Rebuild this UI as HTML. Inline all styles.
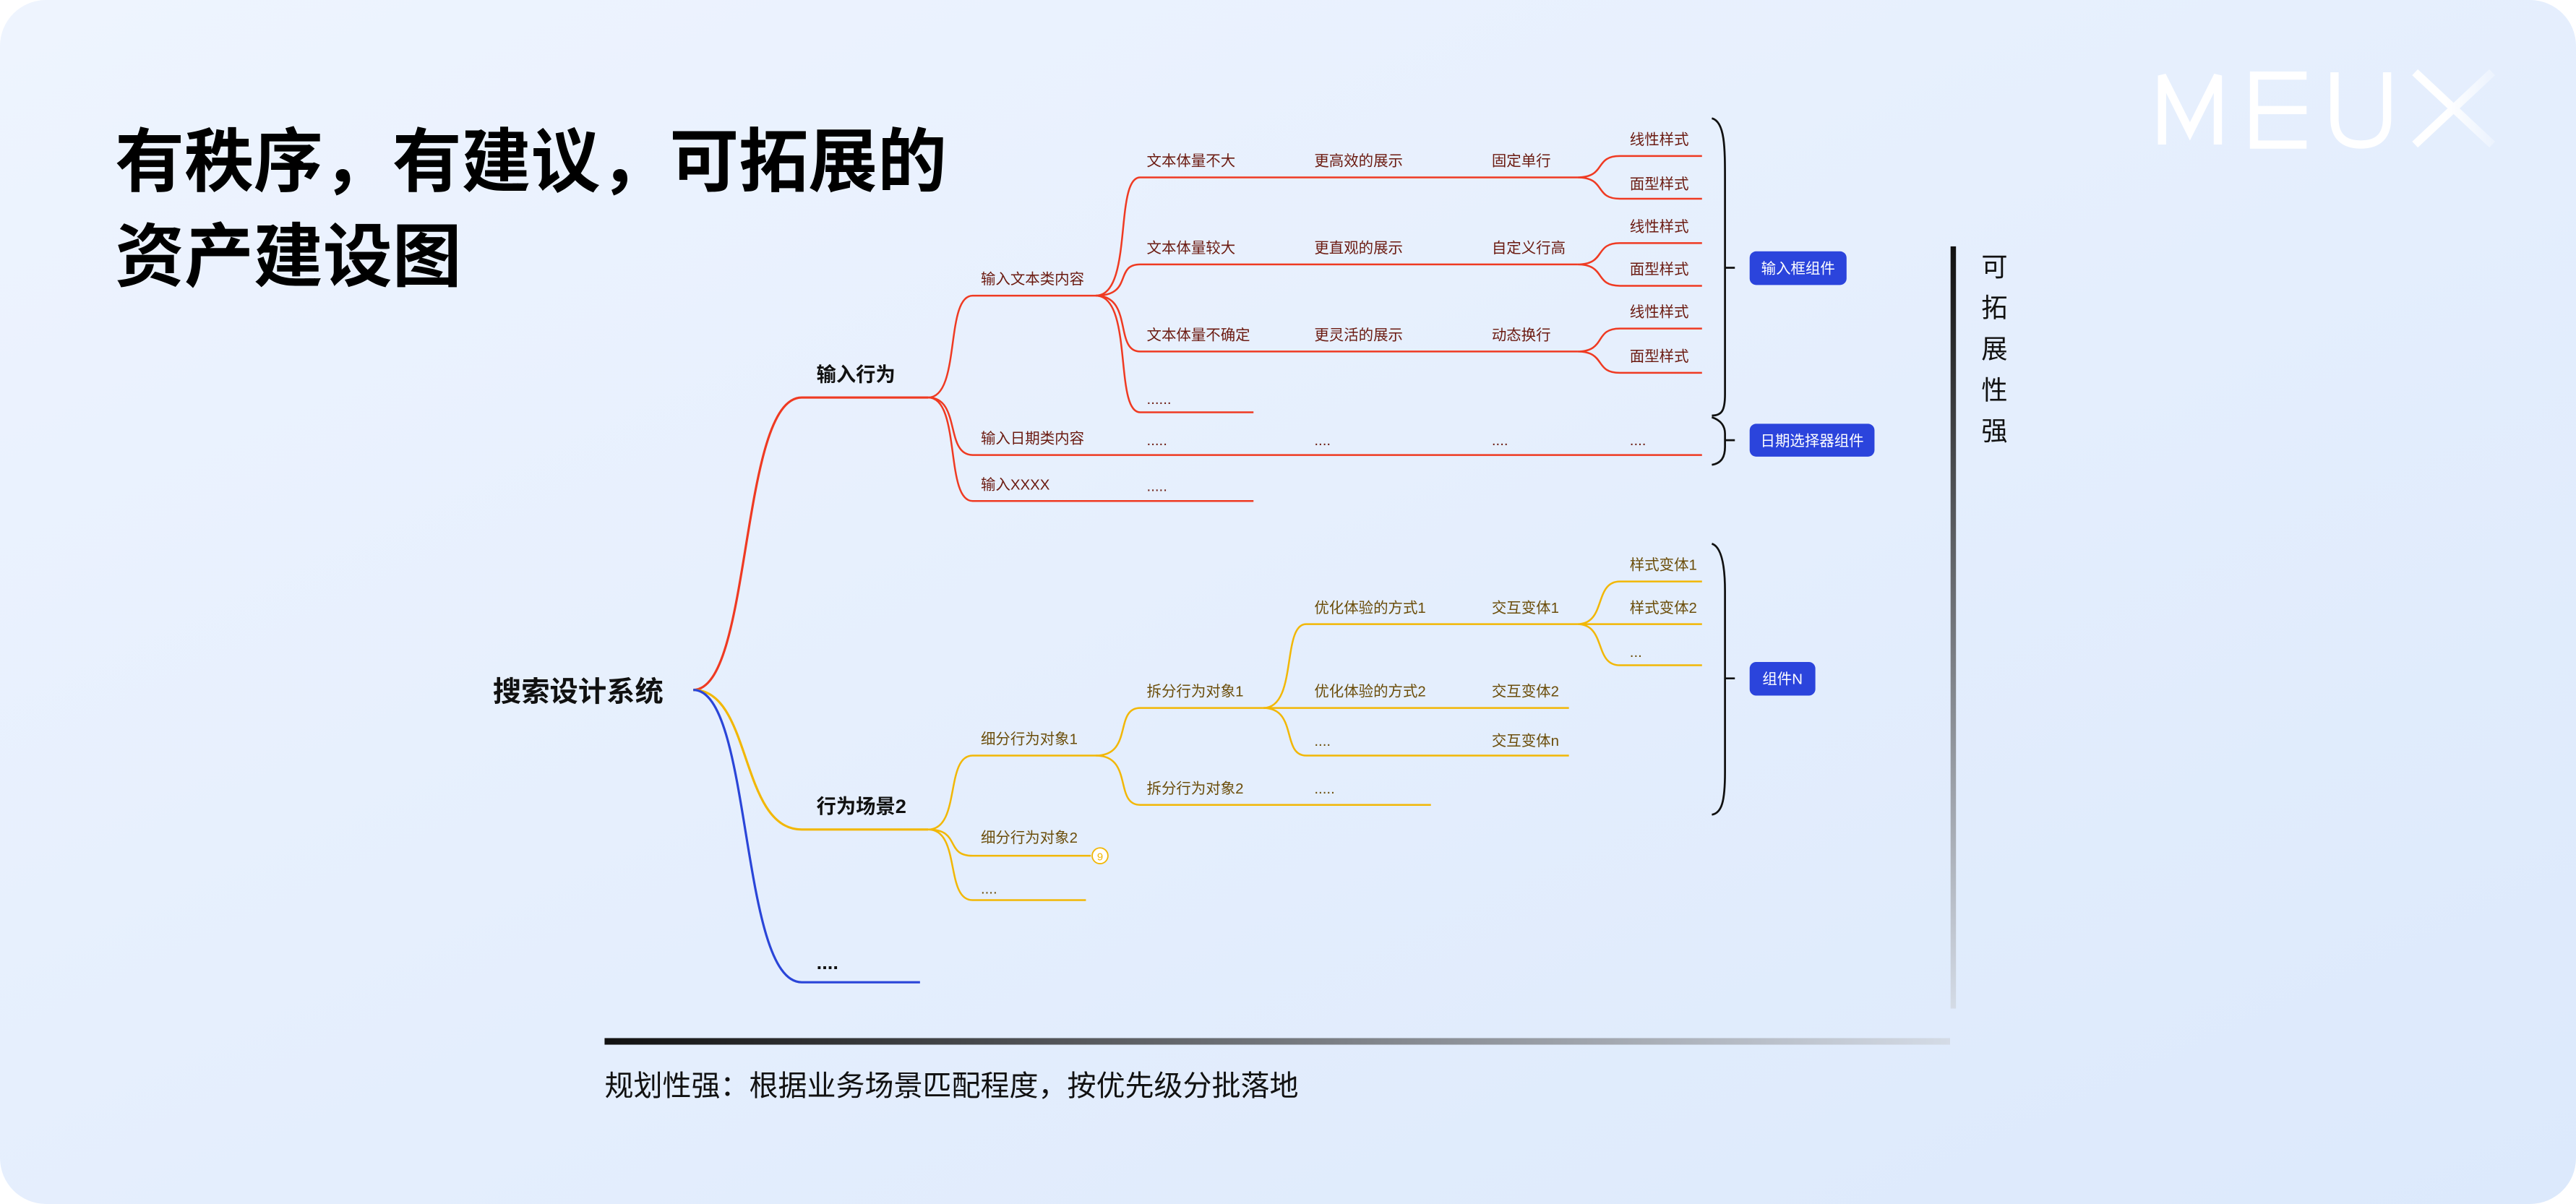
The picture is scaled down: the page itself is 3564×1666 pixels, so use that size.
<!DOCTYPE html>
<html><head><meta charset="utf-8"><style>
html,body{margin:0;padding:0;background:#fff;}
svg{display:block;}
text{font-family:"Liberation Sans","Noto Sans CJK SC",sans-serif;}
</style></head><body>
<svg width="3564" height="1666" viewBox="0 0 1568 733" preserveAspectRatio="none" xmlns="http://www.w3.org/2000/svg">
<defs>
<linearGradient id="bg" x1="0" y1="0" x2="1" y2="1">
<stop offset="0" stop-color="#eef4fe"/><stop offset="1" stop-color="#dce9fc"/>
</linearGradient>
<linearGradient id="hb" x1="0" y1="0" x2="1" y2="0">
<stop offset="0" stop-color="#111"/><stop offset="1" stop-color="#d4dbe6"/>
</linearGradient>
<linearGradient id="vb" x1="0" y1="0" x2="0" y2="1">
<stop offset="0" stop-color="#111"/><stop offset="1" stop-color="#d4dbe6"/>
</linearGradient>
<linearGradient id="xg" x1="0" y1="0" x2="1" y2="0">
<stop offset="0.4" stop-color="#fff"/><stop offset="1" stop-color="#fff" stop-opacity="0.3"/>
</linearGradient>
</defs>
<rect x="0" y="0" width="1568" height="733" rx="28" fill="url(#bg)"/>

<!-- title -->
<text x="70" y="113" font-size="42.2" font-weight="bold" fill="#000">有秩序，有建议，可拓展的</text>
<text x="70" y="171" font-size="42.2" font-weight="bold" fill="#000">资产建设图</text>

<!-- MEUX logo -->
<g fill="none" stroke="#fff" stroke-width="5">
<path d="M1316,88 V46 L1333,80 L1350,46 V88"/>
<path d="M1404,46 H1372 V88 H1404 M1372,67 H1404"/>
<path d="M1421,44 V72 Q1421,88 1437,88 Q1453,88 1453,72 V44"/>
</g>
<path d="M1470,44 L1517,88 M1517,44 L1470,88" stroke="url(#xg)" stroke-width="5" fill="none"/>

<!-- root -->
<text x="300" y="427" font-size="17.3" font-weight="bold" fill="#111">搜索设计系统</text>

<!-- level 1 connectors -->
<g fill="none" stroke-width="1.4">
<path d="M422,420 C458,420 450,242 488,242 H565" stroke="#ef3a22"/>
<path d="M422,420 C458,420 450,505 488,505 H565" stroke="#f2b705"/>
<path d="M422,420 C458,420 450,598 488,598 H560" stroke="#2a45d8"/>
</g>
<g font-size="12" font-weight="bold" fill="#111">
<text x="497" y="232">输入行为</text>
<text x="497" y="495">行为场景2</text>
<text x="497" y="590">....</text>
</g>

<!-- red subtree -->
<g fill="none" stroke="#ef3a22" stroke-width="1.1">
<path d="M565,242 C585,242 575,180 592,180 H667"/>
<path d="M565,242 C585,242 575,277 592,277 H1036"/>
<path d="M565,242 C585,242 575,305 592,305 H763"/>
<path d="M667,180 C690,180 678,108 694,108 H960"/>
<path d="M667,180 C690,180 678,161 694,161 H960"/>
<path d="M667,180 C690,180 678,214 694,214 H960"/>
<path d="M667,180 C690,180 678,251 694,251 H763"/>
<path d="M960,108 C978,108 970,95 986,95 H1036 M960,108 C978,108 970,121 986,121 H1036"/>
<path d="M960,161 C978,161 970,148 986,148 H1036 M960,161 C978,161 970,174 986,174 H1036"/>
<path d="M960,214 C978,214 970,200 986,200 H1036 M960,214 C978,214 970,227 986,227 H1036"/>
</g>
<g font-size="9" fill="#6b1a10">
<text x="597" y="173">输入文本类内容</text>
<text x="597" y="270">输入日期类内容</text>
<text x="597" y="298">输入XXXX</text>
<text x="698" y="101">文本体量不大</text><text x="800" y="101">更高效的展示</text><text x="908" y="101">固定单行</text>
<text x="698" y="154">文本体量较大</text><text x="800" y="154">更直观的展示</text><text x="908" y="154">自定义行高</text>
<text x="698" y="207">文本体量不确定</text><text x="800" y="207">更灵活的展示</text><text x="908" y="207">动态换行</text>
<text x="992" y="88">线性样式</text><text x="992" y="115">面型样式</text>
<text x="992" y="141">线性样式</text><text x="992" y="167">面型样式</text>
<text x="992" y="193">线性样式</text><text x="992" y="220">面型样式</text>
<text x="698" y="246">......</text>
<text x="698" y="271">.....</text><text x="800" y="271">....</text><text x="908" y="271">....</text><text x="992" y="271">....</text>
<text x="698" y="299">.....</text>
</g>

<!-- yellow subtree -->
<g fill="none" stroke="#f2b705" stroke-width="1.1">
<path d="M565,505 C585,505 575,460 592,460 H667"/>
<path d="M565,505 C585,505 575,521 592,521 H664"/>
<path d="M565,505 C585,505 575,548 592,548 H661"/>
<path d="M667,460 C690,460 678,431 694,431 H769"/>
<path d="M667,460 C690,460 678,490 694,490 H871"/>
<path d="M769,431 C790,431 780,380 795,380 H960"/>
<path d="M769,431 H955"/>
<path d="M769,431 C790,431 780,460 795,460 H955"/>
<path d="M960,380 C978,380 970,354 986,354 H1036 M960,380 H1036 M960,380 C978,380 970,405 986,405 H1036"/>
</g>
<circle cx="669.6" cy="521" r="4.8" fill="#fff" stroke="#f2b705" stroke-width="0.8"/>
<text x="669.6" y="523.7" font-size="6.5" fill="#f2b705" text-anchor="middle">9</text>
<g font-size="9" fill="#6b4d0a">
<text x="597" y="453">细分行为对象1</text>
<text x="597" y="513">细分行为对象2</text>
<text x="597" y="544">....</text>
<text x="698" y="424">拆分行为对象1</text>
<text x="698" y="483">拆分行为对象2</text>
<text x="800" y="483">.....</text>
<text x="800" y="373">优化体验的方式1</text><text x="908" y="373">交互变体1</text>
<text x="800" y="424">优化体验的方式2</text><text x="908" y="424">交互变体2</text>
<text x="800" y="454">....</text><text x="908" y="454">交互变体n</text>
<text x="992" y="347">样式变体1</text><text x="992" y="373">样式变体2</text><text x="992" y="400">...</text>
</g>

<!-- braces -->
<g fill="none" stroke="#111" stroke-width="1.2">
<path d="M1042,72 C1050,74 1050,90 1050,110 V240 C1050,250 1048,253 1042,253 M1050,163 H1056"/>
<path d="M1042,254 C1048,256 1050,260 1050,264 V272 C1050,278 1048,282 1042,283 M1050,268 H1056"/>
<path d="M1042,331 C1048,333 1050,345 1050,360 V470 C1050,488 1048,495 1042,496 M1050,413 H1056"/>
</g>
<g font-size="9" fill="#fff">
<rect x="1065" y="153" width="59" height="20.5" rx="4" fill="#2b44dc"/>
<text x="1094.5" y="166.5" text-anchor="middle">输入框组件</text>
<rect x="1065" y="258" width="76" height="20" rx="4" fill="#2b44dc"/>
<text x="1103" y="271.5" text-anchor="middle">日期选择器组件</text>
<rect x="1065" y="403" width="40" height="20.5" rx="4" fill="#2b44dc"/>
<text x="1085" y="416.5" text-anchor="middle">组件N</text>
</g>

<!-- axes -->
<rect x="1187.3" y="150" width="3.3" height="464" fill="url(#vb)"/>
<g font-size="16" fill="#111" text-anchor="middle">
<text x="1214" y="168">可</text><text x="1214" y="193">拓</text><text x="1214" y="218">展</text><text x="1214" y="243">性</text><text x="1214" y="268">强</text>
</g>
<rect x="368" y="632" width="819" height="4" fill="url(#hb)"/>
<text x="368" y="667" font-size="17.6" fill="#111">规划性强：根据业务场景匹配程度，按优先级分批落地</text>
</svg>
</body></html>
